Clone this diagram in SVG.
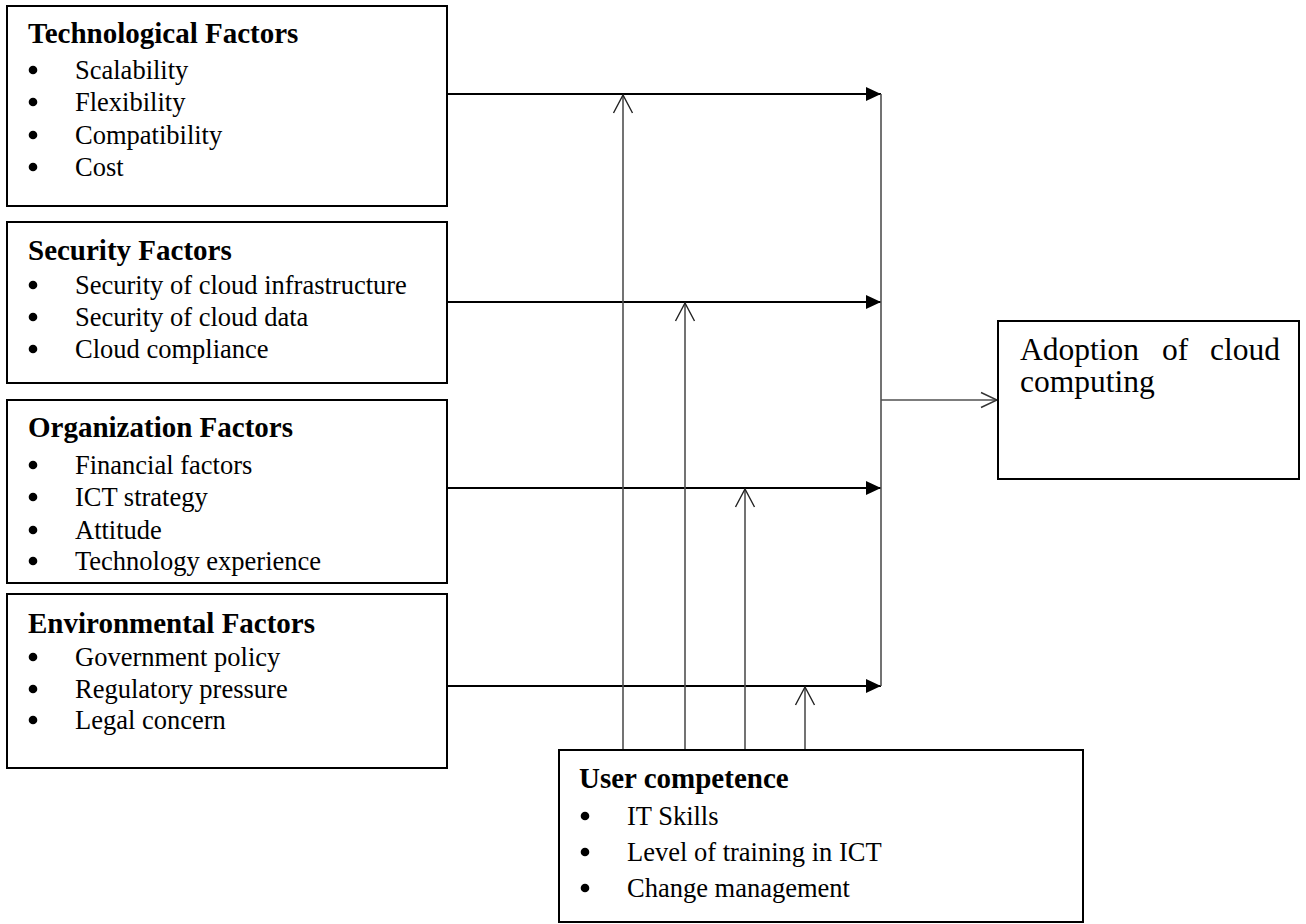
<svg xmlns="http://www.w3.org/2000/svg" width="1306" height="924" viewBox="0 0 1306 924">
  <style>
    .box { fill: #ffffff; stroke: #000000; stroke-width: 2; }
    .title { font-family: "Liberation Serif", "Times New Roman", serif; font-weight: bold; font-size: 29px; fill: #000; }
    .item { font-family: "Liberation Serif", "Times New Roman", serif; font-size: 26.5px; fill: #000; }
    .big { font-family: "Liberation Serif", "Times New Roman", serif; font-size: 31.5px; fill: #000; }
    .dot { fill: #000; }
    .flow { stroke: #000; stroke-width: 2; fill: none; }
    .bus { stroke: #505050; stroke-width: 1.6; fill: none; }
  </style>
  <defs>
    <marker id="solidHead" markerUnits="userSpaceOnUse" markerWidth="16" markerHeight="16" refX="15" refY="7" orient="auto" overflow="visible">
      <path d="M0,0 L15,7 L0,14 z" fill="#000"/>
    </marker>
    <marker id="openHead" markerUnits="userSpaceOnUse" markerWidth="20" markerHeight="20" refX="18" refY="9.5" orient="auto" overflow="visible">
      <path d="M0,0 L18,9.5 L0,19" fill="none" stroke="#222" stroke-width="1.4"/>
    </marker>
    <marker id="openHeadSmall" markerUnits="userSpaceOnUse" markerWidth="18" markerHeight="18" refX="16" refY="7.5" orient="auto" overflow="visible">
      <path d="M0,0 L16,7.5 L0,15" fill="none" stroke="#333" stroke-width="1.4"/>
    </marker>
  </defs>
  <rect width="1306" height="924" fill="#ffffff"/>

  <!-- connectors -->
  <g id="connectors">
    <!-- factor boxes to the collecting bus -->
    <line class="flow" x1="447" y1="94" x2="881" y2="94" marker-end="url(#solidHead)"/>
    <line class="flow" x1="447" y1="302" x2="881" y2="302" marker-end="url(#solidHead)"/>
    <line class="flow" x1="447" y1="488" x2="881" y2="488" marker-end="url(#solidHead)"/>
    <line class="flow" x1="447" y1="686" x2="881" y2="686" marker-end="url(#solidHead)"/>
    <!-- collecting bus -->
    <line class="bus" x1="881" y1="94" x2="881" y2="686"/>
    <!-- bus to outcome -->
    <line class="bus" x1="881" y1="400" x2="997" y2="400" marker-end="url(#openHeadSmall)"/>
    <!-- user competence moderating links -->
    <line class="bus" x1="623" y1="750" x2="623" y2="95" marker-end="url(#openHead)"/>
    <line class="bus" x1="685" y1="750" x2="685" y2="303" marker-end="url(#openHead)"/>
    <line class="bus" x1="745" y1="750" x2="745" y2="489" marker-end="url(#openHead)"/>
    <line class="bus" x1="805" y1="750" x2="805" y2="687" marker-end="url(#openHead)"/>
  </g>

  <!-- Technological Factors -->
  <g id="technological">
    <rect class="box" x="7" y="6" width="440" height="200"/>
    <text class="title" x="28" y="43">Technological Factors</text>
    <circle class="dot" cx="33" cy="70" r="4.3"/>
    <text class="item" x="75" y="79">Scalability</text>
    <circle class="dot" cx="33" cy="102" r="4.3"/>
    <text class="item" x="75" y="111">Flexibility</text>
    <circle class="dot" cx="33" cy="135" r="4.3"/>
    <text class="item" x="75" y="144">Compatibility</text>
    <circle class="dot" cx="33" cy="167" r="4.3"/>
    <text class="item" x="75" y="176">Cost</text>
  </g>

  <!-- Security Factors -->
  <g id="security">
    <rect class="box" x="7" y="222" width="440" height="161"/>
    <text class="title" x="28" y="260">Security Factors</text>
    <circle class="dot" cx="33" cy="285" r="4.3"/>
    <text class="item" x="75" y="294">Security of cloud infrastructure</text>
    <circle class="dot" cx="33" cy="317" r="4.3"/>
    <text class="item" x="75" y="326">Security of cloud data</text>
    <circle class="dot" cx="33" cy="349" r="4.3"/>
    <text class="item" x="75" y="358">Cloud compliance</text>
  </g>

  <!-- Organization Factors -->
  <g id="organization">
    <rect class="box" x="7" y="400" width="440" height="183"/>
    <text class="title" x="28" y="437">Organization Factors</text>
    <circle class="dot" cx="33" cy="465" r="4.3"/>
    <text class="item" x="75" y="474">Financial factors</text>
    <circle class="dot" cx="33" cy="497" r="4.3"/>
    <text class="item" x="75" y="506">ICT strategy</text>
    <circle class="dot" cx="33" cy="530" r="4.3"/>
    <text class="item" x="75" y="539">Attitude</text>
    <circle class="dot" cx="33" cy="561" r="4.3"/>
    <text class="item" x="75" y="570">Technology experience</text>
  </g>

  <!-- Environmental Factors -->
  <g id="environmental">
    <rect class="box" x="7" y="594" width="440" height="174"/>
    <text class="title" x="28" y="633">Environmental Factors</text>
    <circle class="dot" cx="33" cy="657" r="4.3"/>
    <text class="item" x="75" y="666">Government policy</text>
    <circle class="dot" cx="33" cy="689" r="4.3"/>
    <text class="item" x="75" y="698">Regulatory pressure</text>
    <circle class="dot" cx="33" cy="720" r="4.3"/>
    <text class="item" x="75" y="729">Legal concern</text>
  </g>

  <!-- Adoption of cloud computing -->
  <g id="adoption">
    <rect class="box" x="998" y="321" width="301" height="158"/>
    <text class="big" y="360"><tspan x="1020">Adoption</tspan><tspan x="1162">of</tspan><tspan x="1210">cloud</tspan></text>
    <text class="big" x="1020" y="392">computing</text>
  </g>

  <!-- User competence -->
  <g id="user-competence">
    <rect class="box" x="559" y="750" width="524" height="172"/>
    <text class="title" x="579" y="788">User competence</text>
    <circle class="dot" cx="585" cy="816" r="4.3"/>
    <text class="item" x="627" y="825">IT Skills</text>
    <circle class="dot" cx="585" cy="852" r="4.3"/>
    <text class="item" x="627" y="861">Level of training in ICT</text>
    <circle class="dot" cx="585" cy="888" r="4.3"/>
    <text class="item" x="627" y="897">Change management</text>
  </g>
</svg>
